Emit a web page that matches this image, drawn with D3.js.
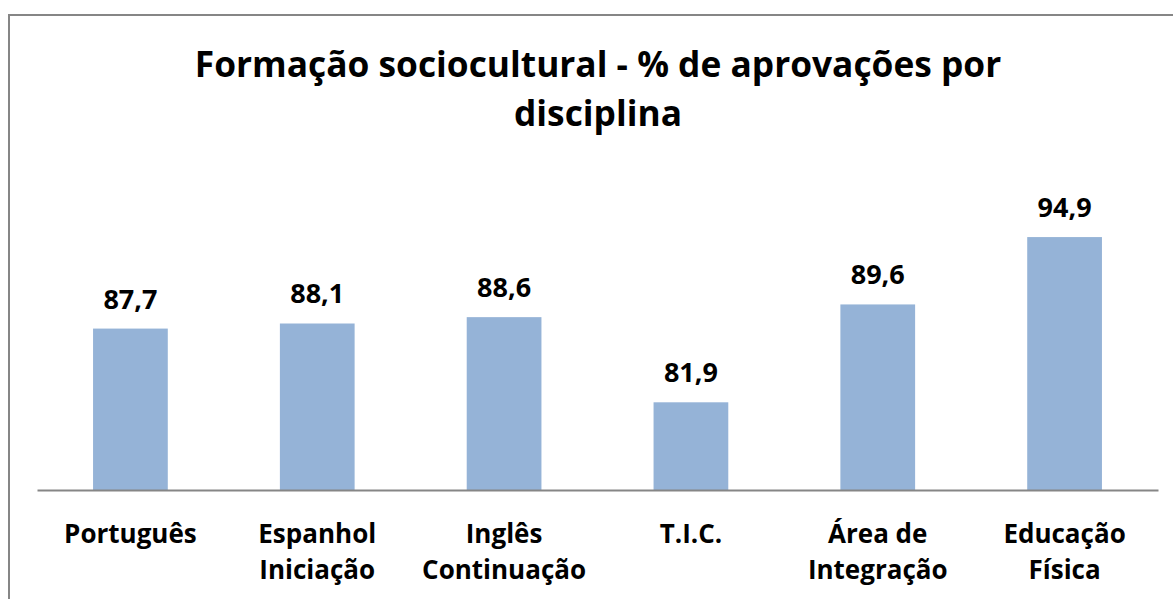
<!DOCTYPE html>
<html><head><meta charset="utf-8">
<script src="https://cdn.jsdelivr.net/npm/d3@7"></script>
<style>html,body{margin:0;padding:0;background:#fff;}svg{display:block;}</style>
</head><body>
<script>
const categories = [["Português"],["Espanhol","Iniciação"],["Inglês","Continuação"],["T.I.C."],["Área de","Integração"],["Educação","Física"]];
const values = [87.7, 88.1, 88.6, 81.9, 89.6, 94.9];
const valueLabels = ["87,7","88,1","88,6","81,9","89,6","94,9"];
const titleLines = ["Formação sociocultural - % de aprovações por","disciplina"];
const yDomain = [75, 100];

const W = 1173, H = 599;
const font = "'Open Sans', sans-serif";
const svg = d3.select("body").append("svg").attr("width", W).attr("height", H);
svg.append("rect").attr("x", 9).attr("y", 15).attr("width", W + 10).attr("height", H + 10)
  .attr("fill", "#fff").attr("stroke", "#868686").attr("stroke-width", 2);

const x = d3.scaleBand().domain(d3.range(values.length)).range([37, 1158]).paddingInner(0.6).paddingOuter(0.3);
const y = d3.scaleLinear().domain(yDomain).range([490, 172.25]);

svg.append("g").selectAll("rect").data(values).join("rect")
  .attr("x", (d, i) => x(i)).attr("width", x.bandwidth())
  .attr("y", d => y(d)).attr("height", d => y(yDomain[0]) - y(d))
  .attr("fill", "#95b3d7");

const xAxis = svg.append("g").attr("transform", `translate(0,${y(yDomain[0])})`)
  .call(d3.axisBottom(x).tickSize(0).tickFormat(""));
xAxis.select(".domain").attr("stroke", "#868686").attr("stroke-width", 2);

svg.append("g").selectAll("text").data(values).join("text")
  .attr("x", (d, i) => x(i) + x.bandwidth() / 2).attr("y", d => y(d) - 20)
  .attr("text-anchor", "middle").attr("font-family", font).attr("font-weight", "bold")
  .attr("font-size", 27).attr("fill", "#000").text((d, i) => valueLabels[i]);

const cl = svg.append("g").selectAll("text").data(categories).join("text")
  .attr("text-anchor", "middle").attr("font-family", font).attr("font-weight", "bold")
  .attr("font-size", 26).attr("fill", "#000");
cl.each(function(lines, i) {
  const t = d3.select(this);
  lines.forEach((l, j) => t.append("tspan").attr("x", x(i) + x.bandwidth() / 2).attr("y", 543 + j * 36).text(l));
});

const tt = svg.append("text").attr("text-anchor", "middle").attr("font-family", font)
  .attr("font-weight", "bold").attr("font-size", 35.3).attr("fill", "#000");
titleLines.forEach((l, j) => tt.append("tspan").attr("x", 598).attr("y", 77 + j * 49).text(l));
</script>
</body></html>
